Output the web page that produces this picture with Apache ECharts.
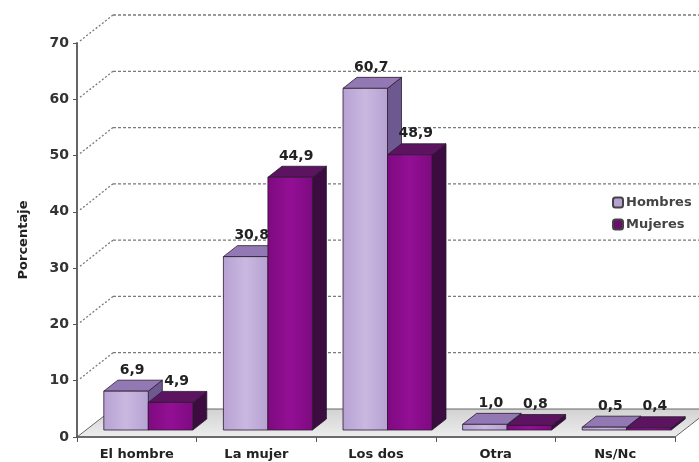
<!DOCTYPE html>
<html>
<head>
<meta charset="utf-8">
<script src="https://cdn.jsdelivr.net/npm/echarts@6/dist/echarts.min.js"></script>
<style>
  html, body { margin: 0; padding: 0; background: #fff; }
  #chart { width: 699px; height: 462px; }
</style>
</head>
<body>
<div id="chart"></div>
<script>
var categories = ['El hombre', 'La mujer', 'Los dos', 'Otra', 'Ns/Nc'];
var hombres = [6.9, 30.8, 60.7, 1.0, 0.5];
var mujeres = [4.9, 44.9, 48.9, 0.8, 0.4];
var yTicks = [0, 10, 20, 30, 40, 50, 60, 70];

var myChart = echarts.init(document.getElementById('chart'));

// perspective offsets (pixels)
var WALL_DX = 36, WALL_DY = -28;   // back wall depth
var OFF_X = 11.5, OFF_Y = -7;      // bar plane offset from front
var BAR_DX = 14, BAR_DY = -11;     // bar depth
var BAR_W = 44.5;

var fontFamily = '"DejaVu Sans", Verdana, sans-serif';
var labelFont = 'bold 14px ' + fontFamily;

function fmt(v) {
    return v.toFixed(1).replace('.', ',');
}

function renderWall(params, api) {
    var cs = params.coordSys;
    var v = api.value(1);
    var y = api.coord([0, v])[1];
    var x0 = cs.x, x1 = cs.x + cs.width;
    if (v === 0) {
        return {
            type: 'group',
            children: [{
                type: 'polygon',
                shape: {points: [[x0, y], [x1, y], [x1 + WALL_DX, y + WALL_DY], [x0 + WALL_DX, y + WALL_DY]]},
                style: {
                    fill: new echarts.graphic.LinearGradient(0, 0, 0, 1, [
                        {offset: 0, color: '#d2d2d2'},
                        {offset: 1, color: '#ededed'}
                    ]),
                    stroke: '#666', lineWidth: 1
                }
            }]
        };
    }
    return {
        type: 'group',
        children: [{
            type: 'line',
            shape: {x1: x0 + WALL_DX, y1: y + WALL_DY, x2: x1 + WALL_DX, y2: y + WALL_DY},
            style: {stroke: '#7a7a7a', lineWidth: 1.3, lineDash: [3, 2]}
        }, {
            type: 'line',
            shape: {x1: x0 + 3, y1: y - 2, x2: x0 + WALL_DX, y2: y + WALL_DY},
            style: {stroke: '#7a7a7a', lineWidth: 1.3, lineDash: [2, 2]}
        }]
    };
}

function makeBarRenderer(side, colors) {
    return function (params, api) {
        var i = api.value(0);
        var v = api.value(1);
        var top = api.coord([i, v]);
        var base = api.coord([i, 0]);
        var L = (side === 0 ? top[0] - BAR_W : top[0]) + OFF_X;
        var R = L + BAR_W;
        var yt = top[1] + OFF_Y;
        var yb = base[1] + OFF_Y;
        return {
            type: 'group',
            children: [{
                type: 'polygon',
                shape: {points: [[R, yt], [R + BAR_DX, yt + BAR_DY], [R + BAR_DX, yb + BAR_DY], [R, yb]]},
                style: {fill: colors.side, stroke: '#2a1a30', lineWidth: 0.8}
            }, {
                type: 'polygon',
                shape: {points: [[L, yt], [R, yt], [R + BAR_DX, yt + BAR_DY], [L + BAR_DX, yt + BAR_DY]]},
                style: {fill: colors.top, stroke: '#2a1a30', lineWidth: 0.8}
            }, {
                type: 'rect',
                shape: {x: L, y: yt, width: BAR_W, height: yb - yt},
                style: {
                    fill: new echarts.graphic.LinearGradient(0, 0, 1, 0, [
                        {offset: 0, color: colors.front[0]},
                        {offset: 0.5, color: colors.front[1]},
                        {offset: 1, color: colors.front[0]}
                    ]),
                    stroke: '#2a1a30', lineWidth: 0.8
                }
            }, {
                type: 'text',
                style: {
                    text: fmt(v),
                    x: L + BAR_W / 2 + 6,
                    y: yt + BAR_DY - 3,
                    align: 'center',
                    verticalAlign: 'bottom',
                    font: labelFont,
                    fill: '#222'
                }
            }]
        };
    };
}

var hombresColors = {front: ['#b7a1d2', '#c9b8e0'], top: '#9379b3', side: '#6e5890'};
var mujeresColors = {front: ['#7e0a80', '#930f95'], top: '#5c1460', side: '#3c0b40'};

var option = {
    animation: false,
    legend: {
        data: ['Hombres', 'Mujeres'],
        orient: 'vertical',
        left: 606,
        top: 192,
        itemWidth: 10,
        itemHeight: 10,
        itemGap: 9,
        padding: [4, 8, 6, 6],
        backgroundColor: '#fff',
        textStyle: {
            fontFamily: fontFamily,
            fontSize: 13,
            fontWeight: 'bold',
            color: '#444',
            padding: [0, 0, 0, -2]
        }
    },
    grid: {
        left: 77,
        right: 24,
        top: 43,
        bottom: 25
    },
    xAxis: {
        type: 'category',
        data: categories,
        axisLine: {lineStyle: {color: '#555', width: 1.5}},
        axisTick: {show: true, length: 5, lineStyle: {color: '#555'}},
        axisLabel: {
            fontFamily: fontFamily,
            fontSize: 13,
            fontWeight: 'bold',
            color: '#222',
            margin: 11
        },
        z: 10
    },
    yAxis: {
        type: 'value',
        min: 0,
        max: 70,
        interval: 10,
        name: 'Porcentaje',
        nameLocation: 'middle',
        nameGap: 47,
        nameTextStyle: {
            fontFamily: fontFamily,
            fontSize: 13,
            fontWeight: 'bold',
            color: '#222'
        },
        axisLine: {show: true, lineStyle: {color: '#666', width: 2}},
        axisTick: {show: true, length: 4, lineStyle: {color: '#555'}},
        axisLabel: {
            fontFamily: fontFamily,
            fontSize: 14,
            fontWeight: 'bold',
            color: '#333',
            margin: 8
        },
        splitLine: {show: false},
        z: 10
    },
    series: [
        {
            name: 'walls',
            type: 'custom',
            renderItem: renderWall,
            data: yTicks.map(function (v) { return [0, v]; }),
            silent: true,
            z: 1
        },
        {
            name: 'Hombres',
            type: 'custom',
            renderItem: makeBarRenderer(0, hombresColors),
            itemStyle: {color: '#b7a1d2', borderColor: '#444', borderWidth: 1},
            data: hombres.map(function (v, i) { return [i, v]; }),
            z: 2
        },
        {
            name: 'Mujeres',
            type: 'custom',
            renderItem: makeBarRenderer(1, mujeresColors),
            itemStyle: {color: '#6a0f6e', borderColor: '#444', borderWidth: 1},
            data: mujeres.map(function (v, i) { return [i, v]; }),
            z: 3
        }
    ]
};

myChart.setOption(option);
</script>
</body>
</html>
